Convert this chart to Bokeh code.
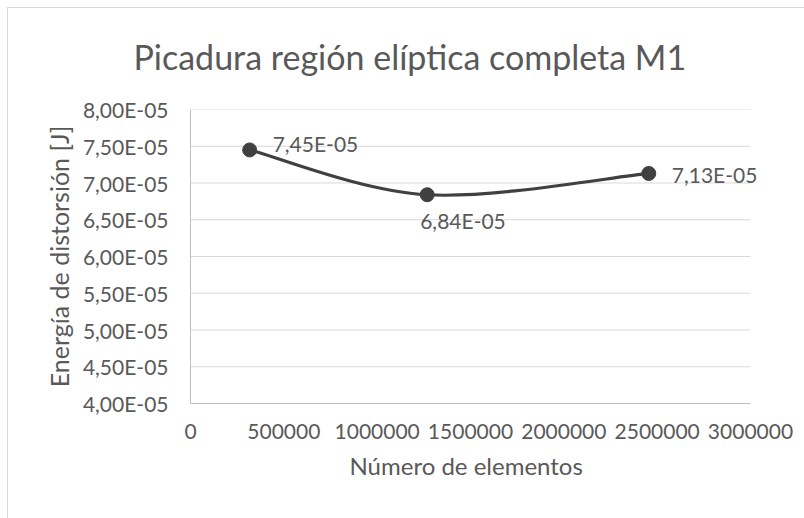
from bokeh.plotting import figure
from bokeh.models import Range1d, FixedTicker, CustomJSTickFormatter, Label, Title
from bokeh.embed import file_html
from bokeh.resources import INLINE

# ---- data ----
elementos = [317000, 1268000, 2455000]
energia = [7.45e-05, 6.84e-05, 7.13e-05]
y_ticks = [4.0e-05, 4.5e-05, 5.0e-05, 5.5e-05, 6.0e-05, 6.5e-05, 7.0e-05, 7.5e-05, 8.0e-05]
x_ticks = [0, 500000, 1000000, 1500000, 2000000, 2500000, 3000000]
titulo = "Picadura región elíptica completa M1"
x_titulo = "Número de elementos"
y_titulo = "Energía de distorsión [J]"

FONT = "Lato"
TXT = "#595959"

X_MIN, X_MAX = x_ticks[0], x_ticks[-1]
# frame extends a bit past the last tick so that the right data label is not clipped;
# axis line and gridlines stop at X_MAX, as in the original chart
PLOT_W, EXTRA_W = 560, 45
x_end = X_MAX + (X_MAX - X_MIN) * EXTRA_W / PLOT_W

p = figure(width=804, height=518, output_backend="svg", toolbar_location=None,
           x_range=Range1d(X_MIN, x_end), y_range=Range1d(y_ticks[0], y_ticks[-1]),
           min_border_left=190, min_border_right=804 - 190 - PLOT_W - EXTRA_W,
           min_border_top=106, min_border_bottom=115)
p.styles = {"background": "linear-gradient(#d9d9d9,#d9d9d9) 7px 7px / 1px 100% no-repeat, "
                          "linear-gradient(#d9d9d9,#d9d9d9) 7px 7px / 100% 1px no-repeat, white"}
p.outline_line_color = None
p.background_fill_color = "white"
p.border_fill_color = None

p.title.text = titulo
p.title.align = "left"
p.title.offset = -57
p.title.standoff = 66
p.title.text_font = FONT
p.title.text_font_size = "34px"
p.title.text_font_style = "normal"
p.title.text_color = TXT

# axes
xa = p.xaxis[0]
ya = p.yaxis[0]
xa.ticker = FixedTicker(ticks=x_ticks)
ya.ticker = FixedTicker(ticks=y_ticks)
xa.bounds = (X_MIN, X_MAX)
xa.formatter = CustomJSTickFormatter(code="return tick.toFixed(0);")
ya.formatter = CustomJSTickFormatter(code="""
const s = tick.toExponential(2);
const m = s.split('e');
let e = parseInt(m[1]);
const sign = e < 0 ? '-' : '+';
e = Math.abs(e);
return m[0].replace('.', ',') + 'E' + sign + (e < 10 ? '0' + e : '' + e);
""")
for ax in (xa, ya):
    ax.major_tick_line_color = None
    ax.minor_tick_line_color = None
    ax.axis_line_color = "#bfbfbf"
    ax.axis_line_width = 1
    ax.major_label_text_font = FONT
    ax.major_label_text_font_size = "21px"
    ax.major_label_text_color = TXT
    ax.axis_label_text_font = FONT
    ax.axis_label_text_font_style = "normal"
    ax.axis_label_text_color = TXT
ya.axis_label = y_titulo
ya.axis_label_text_font_size = "25px"
xa.major_label_standoff = 14
ya.major_label_standoff = 16
ya.axis_label_standoff = 6

# x-axis title centred under the axis extent (not the wider frame)
xt = Title(text=x_titulo, align="left", offset=159, standoff=14,
           text_font=FONT, text_font_size="24px", text_font_style="normal", text_color=TXT)
p.add_layout(xt, "below")

p.xgrid.grid_line_color = None
p.ygrid.grid_line_color = None
# horizontal gridlines limited to the axis extent
p.segment(x0=[X_MIN] * len(y_ticks), x1=[X_MAX] * len(y_ticks), y0=y_ticks, y1=y_ticks,
          line_color="#d9d9d9", line_width=1, level="underlay")

# smoothed line (Excel-style Bezier through the points)
n = len(elementos)
x0, y0, x1, y1, cx0, cy0, cx1, cy1 = [], [], [], [], [], [], [], []
for i in range(n - 1):
    xp, yp = elementos[max(i - 1, 0)], energia[max(i - 1, 0)]
    xa_, ya_ = elementos[i], energia[i]
    xb, yb = elementos[i + 1], energia[i + 1]
    xn, yn = elementos[min(i + 2, n - 1)], energia[min(i + 2, n - 1)]
    x0.append(xa_); y0.append(ya_); x1.append(xb); y1.append(yb)
    cx0.append(xa_ + (xb - xp) / 6.0); cy0.append(ya_ + (yb - yp) / 6.0)
    cx1.append(xb - (xn - xa_) / 6.0); cy1.append(yb - (yn - ya_) / 6.0)
p.bezier(x0=x0, y0=y0, x1=x1, y1=y1, cx0=cx0, cy0=cy0, cx1=cx1, cy1=cy1,
         line_color="#404040", line_width=3.2)

p.scatter(elementos, energia, size=14, fill_color="#404040", line_color="#404040")

# data labels
xoff = [23, -7, 23]
yoff = [6, -26, -1]
for xv, yv, xo, yo in zip(elementos, energia, xoff, yoff):
    p.add_layout(Label(x=xv, y=yv, x_offset=xo, y_offset=yo,
                       text=f"{yv:.2E}".replace(".", ","),
                       text_font=FONT, text_font_size="21px", text_color=TXT,
                       text_align="left", text_baseline="middle"))

open("out.html", "w").write(file_html(p, INLINE))
